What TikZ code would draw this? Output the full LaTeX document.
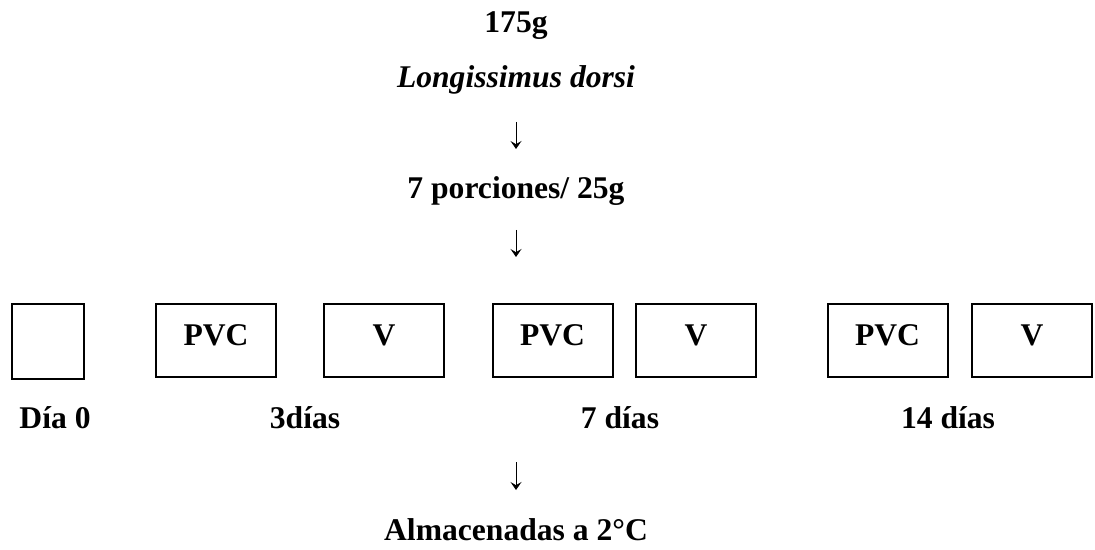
\documentclass[tikz,border=0pt]{standalone}
\usepackage{fontspec}
\setmainfont{Liberation Serif}
\usetikzlibrary{arrows.meta}

\tikzset{
  txt/.style={anchor=base, inner sep=0pt, font=\fontsize{15.8}{19}\selectfont\bfseries},
  box/.style={draw, line width=1pt, minimum width=60pt, minimum height=36.5pt,
    inner sep=0pt, text depth=5pt, font=\fontsize{15.8}{19}\selectfont\bfseries},
  flow/.style={-{Stealth[length=4pt,width=5.5pt,inset=1.6pt]}, line width=0.5pt}
}

\begin{document}
\begin{tikzpicture}[x=0.5pt, y=-0.5pt]
\useasboundingbox (0,0) rectangle (1095,550);
% Top of the flow
\node[txt] (mass) at (516,33) {175g};
\node[txt] (muscle) at (516,88) {\textit{Longissimus dorsi}};
\node[txt] (cuts) at (516,199) {7 porciones/ 25g};
% Packaging boxes
\node[box, minimum width=36pt, minimum height=37.5pt] (day0) at (48,341.5) {};
\node[box] (pvcA) at (216,340.5) {PVC};
\node[box] (vacA) at (384,340.5) {V};
\node[box] (pvcB) at (552.5,340.5) {PVC};
\node[box] (vacB) at (696,340.5) {V};
\node[box] (pvcC) at (887.5,340.5) {PVC};
\node[box] (vacC) at (1032,340.5) {V};
% Storage days
\node[txt] (lblA) at (55,428) {Día 0};
\node[txt] (lblB) at (305,428) {3días};
\node[txt] (lblC) at (620,428) {7 días};
\node[txt] (lblD) at (948,428) {14 días};
\node[txt] (store) at (516,540) {Almacenadas a 2°C};
% Arrows
\draw[flow, shorten <=17pt, shorten >=25pt] (muscle.base) -- (cuts.base);
\draw[flow, shorten <=15.5pt, shorten >=23pt] (cuts.base) -- (cuts.base |- pvcB.north);
\draw[flow, shorten <=17pt, shorten >=25pt] (store.base |- lblC.base) -- (store.base);
\end{tikzpicture}
\end{document}
